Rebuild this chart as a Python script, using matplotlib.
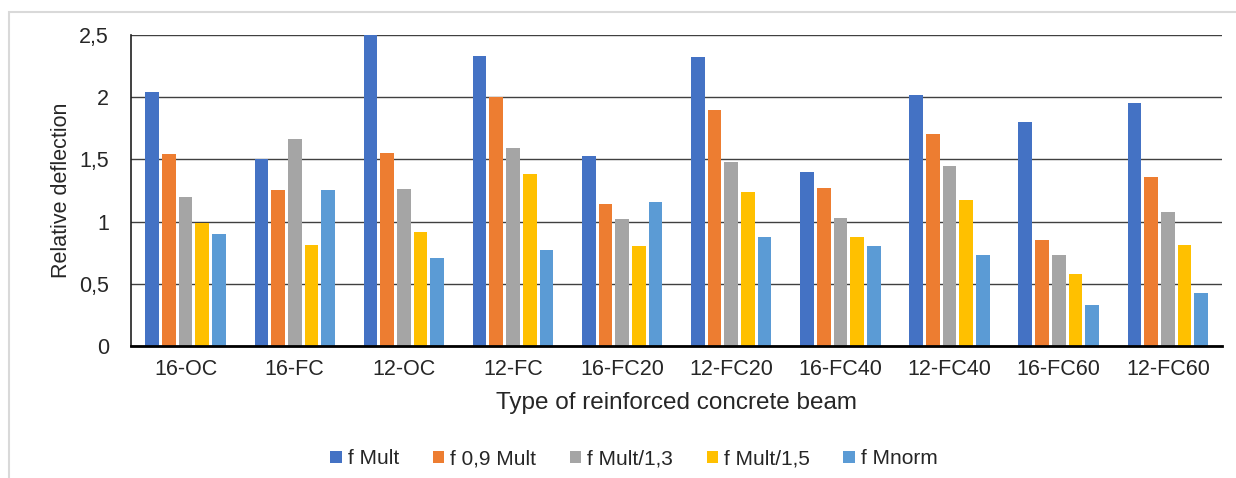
import matplotlib.pyplot as plt
import numpy as np
from matplotlib.patches import Rectangle

plt.rcParams['font.family'] = ['Liberation Sans', 'DejaVu Sans']

beams = ["16-OC", "16-FC", "12-OC", "12-FC", "16-FC20", "12-FC20",
         "16-FC40", "12-FC40", "16-FC60", "12-FC60"]
series_names = ["f Mult", "f 0,9 Mult", "f Mult/1,3", "f Mult/1,5", "f Mnorm"]
f_mult = [2.04, 1.50, 2.50, 2.33, 1.53, 2.32, 1.40, 2.02, 1.80, 1.95]
f_09_mult = [1.54, 1.25, 1.55, 2.00, 1.14, 1.90, 1.27, 1.70, 0.85, 1.36]
f_mult_13 = [1.20, 1.66, 1.26, 1.59, 1.02, 1.48, 1.03, 1.45, 0.73, 1.08]
f_mult_15 = [0.99, 0.81, 0.92, 1.38, 0.80, 1.24, 0.88, 1.17, 0.58, 0.81]
f_mnorm = [0.90, 1.25, 0.71, 0.77, 1.16, 0.88, 0.80, 0.73, 0.33, 0.43]
y_ticks = [0, 0.5, 1, 1.5, 2, 2.5]
y_tick_labels = ["0", "0,5", "1", "1,5", "2", "2,5"]

colors = ["#4472C4", "#ED7D31", "#A5A5A5", "#FFC000", "#5B9BD5"]
all_series = [f_mult, f_09_mult, f_mult_13, f_mult_15, f_mnorm]

fig = plt.figure(figsize=(12.36, 4.78), dpi=100)
fig.patches.append(Rectangle((9 / 1236, -0.1), 1.2, 1 - 12 / 478 + 0.1,
                             transform=fig.transFigure, fill=False,
                             edgecolor="#D9D9D9", linewidth=1.5))
ax = fig.add_axes([0.106, 0.276, 0.883, 0.651])

x = np.arange(len(beams))
pitch = 0.153
for i, (vals, name, c) in enumerate(zip(all_series, series_names, colors)):
    ax.bar(x + (i - 2) * pitch, vals, width=0.125, color=c, label=name, zorder=3)

ax.set_xlim(-0.5, len(beams) - 0.5)
ax.set_ylim(0, 2.5)
ax.set_yticks(y_ticks)
ax.set_yticklabels(y_tick_labels)
ax.set_xticks(x)
ax.set_xticklabels(beams)
ax.tick_params(axis="both", length=0, labelsize=15.5, colors="#262626")
ax.tick_params(axis="x", pad=9)
ax.tick_params(axis="y", pad=16)
ax.grid(axis="y", color="#404040", linewidth=1, zorder=0)
for s in ["top", "right"]:
    ax.spines[s].set_visible(False)
ax.spines["left"].set_color("#202020")
ax.spines["left"].set_linewidth(1.2)
ax.spines["bottom"].set_color("#000000")
ax.spines["bottom"].set_linewidth(2)
ax.spines["bottom"].set_zorder(4)

ax.set_xlabel("Type of reinforced concrete beam", fontsize=17.5, color="#262626", labelpad=9)
ax.set_ylabel("Relative deflection", fontsize=15.5, color="#262626", labelpad=5)

fig.legend(loc="center", bbox_to_anchor=(0.513, 0.040), ncol=5, frameon=False,
           fontsize=15, handlelength=0.55, handleheight=0.55, handletextpad=0.3,
           columnspacing=1.6, labelcolor="#262626")

fig.savefig("out.png", dpi=100)
